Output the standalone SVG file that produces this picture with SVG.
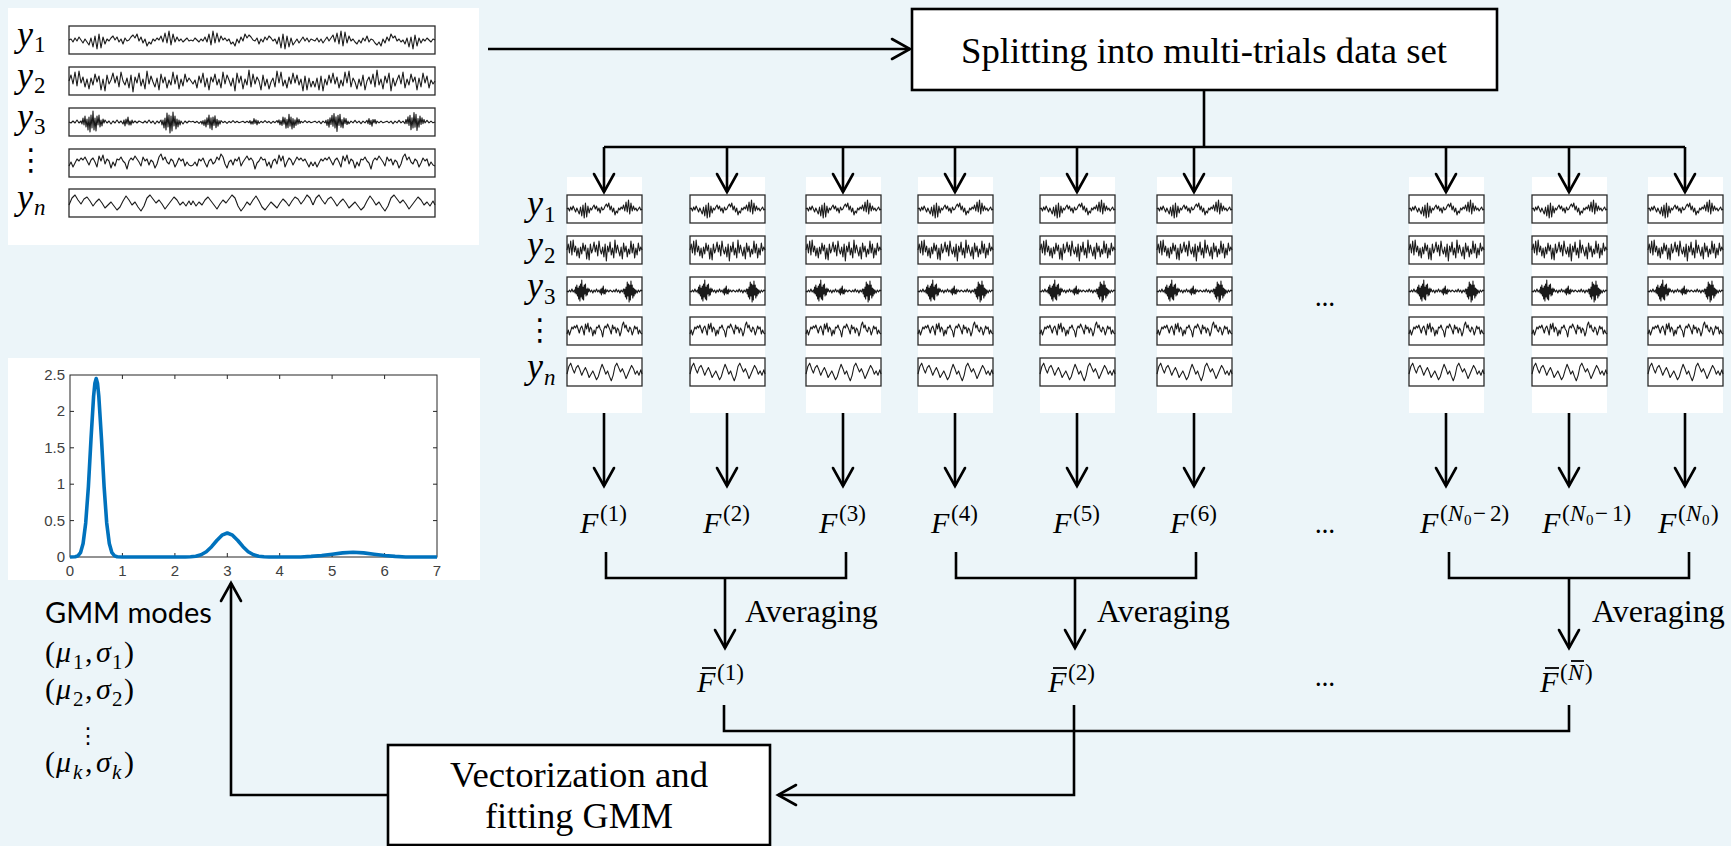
<svg xmlns="http://www.w3.org/2000/svg" xmlns:xlink="http://www.w3.org/1999/xlink" width="1731" height="846" viewBox="0 0 1731 846">
<style>
.panel{fill:#fff}
.sbox{fill:none;stroke:#2b2b2b;stroke-width:1.3}
.sig{fill:none;stroke:#1a1a1a;stroke-width:1.1;stroke-linejoin:round;vector-effect:non-scaling-stroke}
.conn{fill:none;stroke:#000;stroke-width:2.6}
.bar{stroke:#000;stroke-width:1.8}
.node{fill:#fff;stroke:#000;stroke-width:2.6}
.serif{font-family:"Liberation Serif","DejaVu Serif",serif;fill:#000}
.it{font-family:"Liberation Serif","DejaVu Serif",serif;font-style:italic;fill:#000}
.sans{font-family:Lato,"Liberation Sans",sans-serif;fill:#000}
.tick{font-family:"Liberation Sans",Arial,sans-serif;font-size:15px;fill:#404040}
.dots{font-family:"DejaVu Sans",sans-serif;fill:#000}
</style>
<defs>
<marker id="ah" viewBox="-22 -12 26 24" refX="0" refY="0" markerWidth="26" markerHeight="24" markerUnits="userSpaceOnUse" orient="auto">
<path d="M-18,-10 L0,0 L-18,10" fill="none" stroke="#000" stroke-width="2.6" stroke-linecap="round"/>
</marker>
<path id="N1" class="sig" d="M0,0 L2,-1 4,2 6,-2 8,1 10,-3 12,0 14,3 16,-1 18,2 20,5 22,-2 24,7 26,-4 28,9 30,-6 32,8 34,-3 36,4 38,-1 40,1 42,-2 44,-4 46,0 48,-3 50,2 52,-1 54,4 56,-2 58,1 60,0 62,-3 64,-5 66,-2 68,-6 70,1 72,-3 74,3 76,-1 78,6 80,2 82,4 84,-1 86,1 88,-2 90,0 92,-4 94,2 96,-7 98,3 100,-9 102,5 104,-6 106,2 108,-3 110,1 112,-1 114,2 116,0 118,-2 120,1 122,0"/>
<path id="N2" class="sig" d="M0,0 L2,-6 4,3 6,-9 8,5 10,-10 12,2 14,-4 16,6 18,-2 20,8 22,-3 24,4 26,-7 28,1 30,-5 32,9 34,-2 36,10 38,-6 40,3 42,-1 44,-8 46,2 48,-5 50,6 52,-9 54,0 56,4 58,-3 60,7 62,-6 64,11 66,-4 68,2 70,-8 72,5 74,-2 76,8 78,-10 80,3 82,-5 84,1 86,6 88,-3 90,9 92,-7 94,2 96,-4 98,7 100,-1 102,4 104,-9 106,3 108,-6 110,8 112,-2 114,5 116,-7 118,1 120,-3 122,0"/>
<path id="N3" class="sig" d="M0,0 L2,1 4,-1 6,1 8,-2 10,1 12,-1 13,2 14,-4 15,3 16,-6 17,5 18,-3 19,8 20,-5 21,10 22,-7 23,6 24,-11 25,8 26,-4 27,9 28,-6 29,3 30,-7 31,5 32,-2 33,4 34,-3 35,1 36,-2 38,1 40,-1 42,2 44,-1 46,1 48,-2 50,1 52,-1 54,2 55,-2 56,4 57,-3 58,2 59,-5 60,3 61,-1 62,3 63,-2 64,1 66,-1 68,1 70,-1 72,0 74,1 76,-1 78,1 80,-2 82,1 84,-1 86,2 88,-1 90,1 92,-2 93,3 94,-2 95,6 96,-4 97,8 98,-9 99,5 100,-7 101,11 102,-6 103,9 104,-10 105,4 106,-6 107,7 108,-3 109,5 110,-2 111,3 112,-1 114,2 116,-1 118,1 120,-1 122,0"/>
<path id="N4" class="sig" d="M0,3 L2,-1 4,4 6,0 8,-4 10,-2 12,-5 14,-3 16,-6 18,-2 20,2 22,-3 24,-5 26,-1 28,4 30,-7 32,-2 34,-8 36,1 38,-4 40,-2 42,5 44,-1 46,3 48,-4 50,-3 52,-6 54,-2 56,0 58,6 60,-2 62,-5 64,-3 66,-7 68,-4 70,-1 72,3 74,-6 76,-2 78,-4 80,2 82,-3 84,-1 86,5 88,1 90,-6 92,-9 94,-3 96,-6 98,-1 100,1 102,-4 104,-2 106,4 108,0 110,-5 112,-2 114,-4 116,3 118,-1 120,2 122,3"/>
<path id="N5" class="sig" d="M0,2 L3,-5 6,-8 9,-3 12,1 15,-4 18,-6 21,-2 24,3 27,-1 30,-4 33,0 36,5 39,2 42,-1 45,3 48,7 51,4 54,-2 57,-7 60,-3 63,2 66,-1 69,4 72,8 75,3 78,-5 81,-8 84,-4 87,0 90,-3 93,1 96,6 99,2 102,-2 105,-6 108,-3 111,2 114,-1 117,3 120,-2 122,2"/>
<g id="colT">
<rect class="panel" x="0" y="177" width="75" height="236"/>
<rect class="sbox" x="0" y="195" width="75" height="28"/>
<rect class="sbox" x="0" y="236" width="75" height="28"/>
<rect class="sbox" x="0" y="277" width="75" height="28"/>
<rect class="sbox" x="0" y="317" width="75" height="28"/>
<rect class="sbox" x="0" y="358" width="75" height="28"/>
<use href="#N1" transform="translate(0,209) scale(0.615,1)"/>
<use href="#N2" transform="translate(0,250) scale(0.615,1)"/>
<use href="#N3" transform="translate(0,291) scale(0.615,1)"/>
<use href="#N4" transform="translate(0,331) scale(0.615,1)"/>
<use href="#N5" transform="translate(0,372) scale(0.615,1.1)"/>
</g>
</defs>

<rect x="0" y="0" width="1731" height="846" fill="#ecf5f9"/>

<g id="input-signals">
<rect class="panel" x="8" y="8" width="471" height="237"/>
<rect class="sbox" x="69" y="26" width="366" height="28"/>
<rect class="sbox" x="69" y="67" width="366" height="28"/>
<rect class="sbox" x="69" y="108" width="366" height="28"/>
<rect class="sbox" x="69" y="149" width="366" height="28"/>
<rect class="sbox" x="69" y="189" width="366" height="28"/>
<g transform="translate(69,40)"><use href="#N1"/><use href="#N1" transform="translate(244,0) scale(-1,1)"/><use href="#N1" transform="translate(244,0) scale(1,-1)"/></g>
<g transform="translate(69,81)"><use href="#N2"/><use href="#N2" transform="translate(244,0) scale(-1,-1)"/><use href="#N2" transform="translate(244,0) scale(1,-1)"/></g>
<g transform="translate(69,122)"><use href="#N3"/><use href="#N3" transform="translate(244,0) scale(-1,0.7)"/><use href="#N3" transform="translate(244,0) scale(1,-0.85)"/></g>
<g transform="translate(69,163)"><use href="#N4"/><use href="#N4" transform="translate(244,0) scale(-1,1)"/><use href="#N4" transform="translate(244,0)"/></g>
<g transform="translate(69,203)"><use href="#N5"/><use href="#N5" transform="translate(244,0) scale(-1,1)"/><use href="#N5" transform="translate(244,0)"/></g>
<text class="it" font-size="36" x="17" y="46">y</text><text class="serif" font-size="23" x="34" y="52">1</text>
<text class="it" font-size="36" x="17" y="87">y</text><text class="serif" font-size="23" x="34" y="93">2</text>
<text class="it" font-size="36" x="17" y="128">y</text><text class="serif" font-size="23" x="34" y="134">3</text>
<text class="dots" font-size="30" x="31" y="170" text-anchor="middle">⋮</text>
<text class="it" font-size="36" x="17" y="209">y</text><text class="it" font-size="23" x="34" y="215">n</text>
</g>

<g id="split-node">
<rect class="node" x="912" y="9" width="585" height="81"/>
<text class="serif" font-size="35" x="1204" y="63" text-anchor="middle" textLength="486" lengthAdjust="spacingAndGlyphs">Splitting into multi-trials data set</text>
</g>

<g id="trial-labels">
<text class="it" font-size="36" x="527" y="215">y</text><text class="serif" font-size="23" x="544" y="222">1</text>
<text class="it" font-size="36" x="527" y="256">y</text><text class="serif" font-size="23" x="544" y="263">2</text>
<text class="it" font-size="36" x="527" y="297">y</text><text class="serif" font-size="23" x="544" y="304">3</text>
<text class="dots" font-size="30" x="540" y="340" text-anchor="middle">⋮</text>
<text class="it" font-size="36" x="527" y="378">y</text><text class="it" font-size="23" x="544" y="385">n</text>
</g>

<g id="trial1"><use href="#colT" transform="translate(567,0)"/></g>
<g id="trial2"><use href="#colT" transform="translate(690,0)"/></g>
<g id="trial3"><use href="#colT" transform="translate(806,0)"/></g>
<g id="trial4"><use href="#colT" transform="translate(918,0)"/></g>
<g id="trial5"><use href="#colT" transform="translate(1040,0)"/></g>
<g id="trial6"><use href="#colT" transform="translate(1157,0)"/></g>
<g id="trial7"><use href="#colT" transform="translate(1409,0)"/></g>
<g id="trial8"><use href="#colT" transform="translate(1532,0)"/></g>
<g id="trial9"><use href="#colT" transform="translate(1648,0)"/></g>
<g id="trial-ellipsis"><text class="sans" font-size="26" x="1325" y="306" text-anchor="middle">…</text></g>

<g id="F-labels">
<text class="it" font-size="30" x="580" y="533">F</text><text class="serif" font-size="23" x="600" y="521">(1)</text>
<text class="it" font-size="30" x="703" y="533">F</text><text class="serif" font-size="23" x="723" y="521">(2)</text>
<text class="it" font-size="30" x="819" y="533">F</text><text class="serif" font-size="23" x="839" y="521">(3)</text>
<text class="it" font-size="30" x="931" y="533">F</text><text class="serif" font-size="23" x="951" y="521">(4)</text>
<text class="it" font-size="30" x="1053" y="533">F</text><text class="serif" font-size="23" x="1073" y="521">(5)</text>
<text class="it" font-size="30" x="1170" y="533">F</text><text class="serif" font-size="23" x="1190" y="521">(6)</text>
<text class="sans" font-size="26" x="1325" y="533" text-anchor="middle">…</text>
<text class="it" font-size="30" x="1420" y="533">F</text><text class="serif" font-size="23" x="1440" y="521">(</text><text class="it" font-size="23" x="1448" y="521">N</text><text class="serif" font-size="15" x="1464" y="525">0</text><text class="serif" font-size="23" x="1473" y="521">−</text><text class="serif" font-size="23" x="1490" y="521">2)</text>
<text class="it" font-size="30" x="1542" y="533">F</text><text class="serif" font-size="23" x="1562" y="521">(</text><text class="it" font-size="23" x="1570" y="521">N</text><text class="serif" font-size="15" x="1586" y="525">0</text><text class="serif" font-size="23" x="1595" y="521">−</text><text class="serif" font-size="23" x="1612" y="521">1)</text>
<text class="it" font-size="30" x="1658" y="533">F</text><text class="serif" font-size="23" x="1678" y="521">(</text><text class="it" font-size="23" x="1686" y="521">N</text><text class="serif" font-size="15" x="1702" y="525">0</text><text class="serif" font-size="23" x="1711" y="521">)</text>
</g>

<g id="averaging-labels">
<text class="serif" font-size="32" x="745" y="622">Averaging</text>
<text class="serif" font-size="32" x="1097" y="622">Averaging</text>
<text class="serif" font-size="32" x="1592" y="622">Averaging</text>
</g>

<g id="Fbar-labels">
<text class="it" font-size="30" x="697" y="692">F</text><line class="bar" x1="702" y1="668" x2="716" y2="668"/><text class="serif" font-size="23" x="717" y="680">(1)</text>
<text class="it" font-size="30" x="1048" y="692">F</text><line class="bar" x1="1053" y1="668" x2="1067" y2="668"/><text class="serif" font-size="23" x="1068" y="680">(2)</text>
<text class="sans" font-size="26" x="1325" y="686" text-anchor="middle">…</text>
<text class="it" font-size="30" x="1540" y="692">F</text><line class="bar" x1="1545" y1="668" x2="1559" y2="668"/><text class="serif" font-size="23" x="1560" y="680">(</text><text class="it" font-size="23" x="1568" y="680">N</text><line class="bar" x1="1571" y1="661" x2="1584" y2="661"/><text class="serif" font-size="23" x="1585" y="680">)</text>
</g>

<g id="gmm-node">
<rect class="node" x="388" y="745" width="382" height="100"/>
<text class="serif" font-size="35" x="579" y="787" text-anchor="middle" textLength="258" lengthAdjust="spacingAndGlyphs">Vectorization and</text>
<text class="serif" font-size="35" x="579" y="828" text-anchor="middle" textLength="188" lengthAdjust="spacingAndGlyphs">fitting GMM</text>
</g>

<g id="gmm-plot">
<rect class="panel" x="8" y="358" width="472" height="222"/>
<g stroke="#262626" stroke-width="1" fill="none">
<rect x="70" y="375" width="367" height="182"/>
<path d="M122.4,557v-4M174.9,557v-4M227.3,557v-4M279.7,557v-4M332.1,557v-4M384.6,557v-4M122.4,375v4M174.9,375v4M227.3,375v4M279.7,375v4M332.1,375v4M384.6,375v4M70,520.6h4M70,484.2h4M70,447.8h4M70,411.4h4M437,520.6h-4M437,484.2h-4M437,447.8h-4M437,411.4h-4"/>
</g>
<g class="tick" text-anchor="end">
<text x="65" y="380">2.5</text><text x="65" y="416">2</text><text x="65" y="453">1.5</text><text x="65" y="489">1</text><text x="65" y="526">0.5</text><text x="65" y="562">0</text>
</g>
<g class="tick" text-anchor="middle">
<text x="70" y="576">0</text><text x="122.4" y="576">1</text><text x="174.9" y="576">2</text><text x="227.3" y="576">3</text><text x="279.7" y="576">4</text><text x="332.1" y="576">5</text><text x="384.6" y="576">6</text><text x="437" y="576">7</text>
</g>
<polyline fill="none" stroke="#0072bd" stroke-width="3.6" stroke-linejoin="round" points="70,557 75.2,556.8 77.9,555.9 80.5,552.7 83.1,543.5 85.7,522.9 88.4,486.6 91,439.1 93.6,396.1 94.9,383.2 96.2,378.6 97.5,383.2 98.8,396.1 101.5,439.1 104.1,486.6 106.7,522.9 109.3,543.5 111.9,552.7 114.6,555.9 117.2,556.8 122.4,557 185.3,557 190.6,556.8 195.8,556.2 201.1,554.7 206.3,551.7 211.6,546.7 216.8,540.5 222,535.2 227.3,533 232.5,535.2 237.8,540.5 243,546.7 248.2,551.7 253.5,554.7 258.7,556.2 264,556.8 269.2,557 300.7,557 311.2,556.4 321.7,555.5 332.2,554.2 342.6,552.9 353.1,552.3 363.6,552.9 374.1,554.2 384.6,555.5 395.1,556.4 405.6,557 437,557"/>
</g>

<g id="gmm-modes">
<text class="sans" font-size="29" x="45" y="623">GMM modes</text>
<text font-size="30" y="662"><tspan class="serif" x="45">(</tspan><tspan class="it" x="56">μ</tspan><tspan class="serif" x="73" y="669" font-size="21">1</tspan><tspan class="serif" x="85" y="662">,</tspan><tspan class="it" x="96">σ</tspan><tspan class="serif" x="112" y="669" font-size="21">1</tspan><tspan class="serif" x="124" y="662">)</tspan></text>
<text font-size="30" y="699"><tspan class="serif" x="45">(</tspan><tspan class="it" x="56">μ</tspan><tspan class="serif" x="73" y="706" font-size="21">2</tspan><tspan class="serif" x="85" y="699">,</tspan><tspan class="it" x="96">σ</tspan><tspan class="serif" x="112" y="706" font-size="21">2</tspan><tspan class="serif" x="124" y="699">)</tspan></text>
<text class="dots" font-size="22" x="88" y="743" text-anchor="middle">⋮</text>
<text font-size="30" y="772"><tspan class="serif" x="45">(</tspan><tspan class="it" x="56">μ</tspan><tspan class="it" x="73" y="779" font-size="21">k</tspan><tspan class="serif" x="85" y="772">,</tspan><tspan class="it" x="96">σ</tspan><tspan class="it" x="112" y="779" font-size="21">k</tspan><tspan class="serif" x="124" y="772">)</tspan></text>
</g>

<g id="connectors" class="conn">
<path d="M488,49 H910" marker-end="url(#ah)"/>
<path d="M1204,90 V147 M604,147 H1685"/>
<path d="M604,147 V192" marker-end="url(#ah)"/>
<path d="M727,147 V192" marker-end="url(#ah)"/>
<path d="M843,147 V192" marker-end="url(#ah)"/>
<path d="M955,147 V192" marker-end="url(#ah)"/>
<path d="M1077,147 V192" marker-end="url(#ah)"/>
<path d="M1194,147 V192" marker-end="url(#ah)"/>
<path d="M1446,147 V192" marker-end="url(#ah)"/>
<path d="M1569,147 V192" marker-end="url(#ah)"/>
<path d="M1685,147 V192" marker-end="url(#ah)"/>
<path d="M604,413 V486" marker-end="url(#ah)"/>
<path d="M727,413 V486" marker-end="url(#ah)"/>
<path d="M843,413 V486" marker-end="url(#ah)"/>
<path d="M955,413 V486" marker-end="url(#ah)"/>
<path d="M1077,413 V486" marker-end="url(#ah)"/>
<path d="M1194,413 V486" marker-end="url(#ah)"/>
<path d="M1446,413 V486" marker-end="url(#ah)"/>
<path d="M1569,413 V486" marker-end="url(#ah)"/>
<path d="M1685,413 V486" marker-end="url(#ah)"/>
<path d="M606,552 V578 H846 V552"/>
<path d="M956,552 V578 H1196 V552"/>
<path d="M1449,552 V578 H1689 V552"/>
<path d="M725,578 V648" marker-end="url(#ah)"/>
<path d="M1075,578 V648" marker-end="url(#ah)"/>
<path d="M1569,578 V648" marker-end="url(#ah)"/>
<path d="M724,705 V731 H1569 V705"/>
<path d="M1074,705 V795 H778" marker-end="url(#ah)"/>
<path d="M388,795 H231 V583" marker-end="url(#ah)"/>
</g>
</svg>
